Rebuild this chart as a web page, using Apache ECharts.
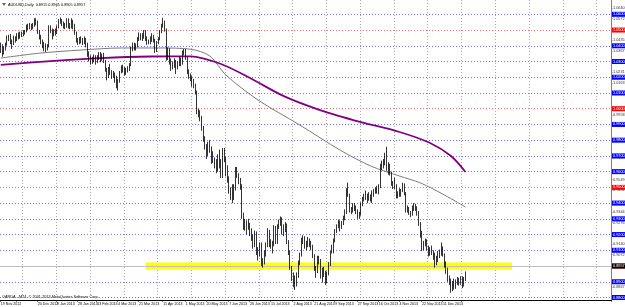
<!DOCTYPE html>
<html>
<head>
<meta charset="utf-8">
<script src="https://cdn.jsdelivr.net/npm/echarts@6/dist/echarts.min.js"></script>
<style>
  html, body { margin: 0; padding: 0; background: #fff; }
  #chart { width: 625px; height: 307px; }
</style>
</head>
<body>
<div id="chart"></div>
<script>
// AUDUSD daily candles, rows: [day, open, high, low, close]
const nov12 = [
  [19,1.0370,1.0420,1.0355,1.0400],[20,1.0400,1.0410,1.0330,1.0370],[21,1.0370,1.0395,1.0345,1.0380],
  [22,1.0380,1.0420,1.0370,1.0410],[23,1.0410,1.0465,1.0400,1.0455],[26,1.0455,1.0470,1.0430,1.0450],
  [27,1.0450,1.0475,1.0410,1.0425],[28,1.0425,1.0440,1.0380,1.0410],[29,1.0410,1.0465,1.0405,1.0445],
  [30,1.0445,1.0460,1.0420,1.0435]
];
const dec12 = [
  [3,1.0435,1.0480,1.0430,1.0470],[4,1.0470,1.0485,1.0440,1.0460],[5,1.0460,1.0490,1.0445,1.0475],
  [6,1.0475,1.0490,1.0455,1.0470],[7,1.0470,1.0500,1.0460,1.0480],[10,1.0480,1.0500,1.0470,1.0490],
  [11,1.0490,1.0535,1.0485,1.0525],[12,1.0525,1.0540,1.0500,1.0520],[13,1.0520,1.0545,1.0505,1.0530],
  [14,1.0530,1.0540,1.0500,1.0515],[17,1.0515,1.0545,1.0505,1.0535],[18,1.0535,1.0575,1.0520,1.0555],
  [19,1.0555,1.0575,1.0530,1.0545],[20,1.0545,1.0560,1.0475,1.0490],[21,1.0490,1.0500,1.0440,1.0460],
  [24,1.0460,1.0470,1.0410,1.0420],[26,1.0420,1.0440,1.0385,1.0400],[27,1.0400,1.0425,1.0365,1.0385],
  [28,1.0385,1.0415,1.0360,1.0380],[31,1.0380,1.0410,1.0370,1.0395]
];
const jan13 = [
  [2,1.0395,1.0530,1.0390,1.0515],[3,1.0515,1.0530,1.0480,1.0495],[4,1.0495,1.0510,1.0440,1.0475],
  [7,1.0475,1.0505,1.0460,1.0495],[8,1.0495,1.0510,1.0465,1.0485],[9,1.0485,1.0530,1.0475,1.0525],
  [10,1.0525,1.0570,1.0510,1.0560],[11,1.0560,1.0580,1.0540,1.0555],[14,1.0555,1.0570,1.0525,1.0540],
  [15,1.0540,1.0555,1.0510,1.0530],[16,1.0530,1.0545,1.0505,1.0520],[17,1.0520,1.0575,1.0515,1.0565],
  [18,1.0565,1.0575,1.0510,1.0525],[21,1.0525,1.0545,1.0505,1.0520],[22,1.0520,1.0575,1.0510,1.0555],
  [23,1.0555,1.0565,1.0505,1.0530],[24,1.0530,1.0540,1.0470,1.0480],[25,1.0480,1.0490,1.0420,1.0430],
  [28,1.0430,1.0450,1.0405,1.0420],[29,1.0420,1.0455,1.0410,1.0440],[30,1.0440,1.0460,1.0415,1.0430],
  [31,1.0430,1.0450,1.0405,1.0425]
];
const feb13 = [
  [1,1.0425,1.0460,1.0410,1.0440],[4,1.0440,1.0450,1.0390,1.0410],[5,1.0410,1.0420,1.0330,1.0345],
  [6,1.0345,1.0365,1.0300,1.0315],[7,1.0315,1.0340,1.0280,1.0295],[8,1.0295,1.0330,1.0285,1.0320],
  [11,1.0320,1.0345,1.0295,1.0330],[12,1.0330,1.0340,1.0280,1.0300],[13,1.0300,1.0340,1.0290,1.0325],
  [14,1.0325,1.0360,1.0310,1.0345],[15,1.0345,1.0360,1.0295,1.0310],[18,1.0310,1.0350,1.0305,1.0340],
  [19,1.0340,1.0355,1.0290,1.0300],[20,1.0300,1.0310,1.0235,1.0245],[21,1.0245,1.0260,1.0180,1.0205],
  [22,1.0205,1.0265,1.0195,1.0250],[25,1.0250,1.0285,1.0215,1.0235],[26,1.0235,1.0245,1.0190,1.0220],
  [27,1.0220,1.0240,1.0195,1.0215],[28,1.0215,1.0230,1.0165,1.0185]
];
const mar13 = [
  [1,1.0185,1.0210,1.0130,1.0150],[4,1.0150,1.0190,1.0115,1.0175],[5,1.0175,1.0240,1.0165,1.0235],
  [6,1.0235,1.0275,1.0225,1.0265],[7,1.0265,1.0280,1.0230,1.0250],[8,1.0250,1.0265,1.0210,1.0240],
  [11,1.0240,1.0260,1.0215,1.0245],[12,1.0245,1.0270,1.0230,1.0260],[13,1.0260,1.0290,1.0240,1.0280],
  [14,1.0280,1.0395,1.0270,1.0380],[15,1.0380,1.0420,1.0365,1.0405],[18,1.0405,1.0420,1.0370,1.0395],
  [19,1.0395,1.0415,1.0370,1.0400],[20,1.0400,1.0455,1.0390,1.0445],[21,1.0445,1.0485,1.0430,1.0470],
  [22,1.0470,1.0480,1.0435,1.0450],[25,1.0450,1.0480,1.0430,1.0455],[26,1.0455,1.0500,1.0445,1.0490],
  [27,1.0490,1.0500,1.0430,1.0450],[28,1.0450,1.0460,1.0405,1.0420],[29,1.0420,1.0440,1.0410,1.0425]
];
const apr13 = [
  [1,1.0425,1.0460,1.0410,1.0440],[2,1.0440,1.0480,1.0425,1.0455],[3,1.0455,1.0470,1.0420,1.0430],
  [4,1.0430,1.0445,1.0355,1.0370],[5,1.0370,1.0430,1.0360,1.0420],[8,1.0420,1.0455,1.0410,1.0445],
  [9,1.0445,1.0500,1.0435,1.0490],[10,1.0490,1.0540,1.0480,1.0530],[11,1.0530,1.0578,1.0515,1.0540],
  [12,1.0540,1.0560,1.0490,1.0505],[15,1.0505,1.0510,1.0305,1.0325],[16,1.0325,1.0390,1.0310,1.0375],
  [17,1.0375,1.0385,1.0280,1.0300],[18,1.0300,1.0320,1.0240,1.0270],[19,1.0270,1.0300,1.0250,1.0285],
  [22,1.0285,1.0320,1.0260,1.0290],[23,1.0290,1.0310,1.0220,1.0260],[24,1.0260,1.0300,1.0250,1.0280],
  [25,1.0280,1.0330,1.0270,1.0315],[26,1.0315,1.0325,1.0270,1.0290],[29,1.0290,1.0370,1.0280,1.0360],
  [30,1.0360,1.0380,1.0340,1.0365]
];
const may13 = [
  [1,1.0365,1.0380,1.0310,1.0325],[2,1.0325,1.0330,1.0220,1.0230],[3,1.0230,1.0250,1.0190,1.0215],
  [6,1.0215,1.0225,1.0175,1.0200],[7,1.0200,1.0210,1.0140,1.0160],[8,1.0160,1.0190,1.0130,1.0150],
  [9,1.0150,1.0160,1.0090,1.0105],[10,1.0105,1.0115,0.9965,0.9985],[13,0.9985,1.0000,0.9945,0.9965],
  [14,0.9965,0.9990,0.9920,0.9945],[15,0.9945,0.9955,0.9860,0.9875],[16,0.9875,0.9890,0.9790,0.9810],
  [17,0.9810,0.9825,0.9740,0.9760],[20,0.9760,0.9775,0.9680,0.9710],[21,0.9710,0.9790,0.9700,0.9780],
  [22,0.9780,0.9800,0.9720,0.9740],[23,0.9740,0.9760,0.9650,0.9700],[24,0.9700,0.9730,0.9655,0.9670],
  [27,0.9670,0.9690,0.9620,0.9650],[28,0.9650,0.9680,0.9590,0.9610],[29,0.9610,0.9710,0.9600,0.9695],
  [30,0.9695,0.9740,0.9620,0.9640],[31,0.9640,0.9680,0.9560,0.9570]
];
const jun13 = [
  [3,0.9570,0.9750,0.9560,0.9740],[4,0.9740,0.9750,0.9660,0.9690],[5,0.9690,0.9695,0.9570,0.9590],
  [6,0.9590,0.9640,0.9530,0.9560],[7,0.9560,0.9570,0.9460,0.9475],[10,0.9475,0.9500,0.9420,0.9465],
  [11,0.9465,0.9520,0.9400,0.9435],[12,0.9435,0.9520,0.9420,0.9500],[13,0.9500,0.9630,0.9480,0.9610],
  [14,0.9610,0.9630,0.9560,0.9575],[17,0.9575,0.9590,0.9520,0.9550],[18,0.9550,0.9560,0.9485,0.9505],
  [19,0.9505,0.9520,0.9300,0.9320],[20,0.9320,0.9340,0.9230,0.9260],[21,0.9260,0.9300,0.9225,0.9270],
  [24,0.9270,0.9290,0.9200,0.9240],[25,0.9240,0.9300,0.9230,0.9265],[26,0.9265,0.9275,0.9190,0.9215],
  [27,0.9215,0.9240,0.9160,0.9180],[28,0.9180,0.9200,0.9110,0.9140]
];
const jul13 = [
  [1,0.9140,0.9225,0.9120,0.9210],[2,0.9210,0.9220,0.9070,0.9085],[3,0.9085,0.9120,0.9035,0.9090],
  [4,0.9090,0.9150,0.9060,0.9140],[5,0.9140,0.9150,0.9000,0.9015],[8,0.9015,0.9050,0.8990,0.9030],
  [9,0.9030,0.9100,0.9010,0.9085],[10,0.9085,0.9150,0.9060,0.9140],[11,0.9140,0.9240,0.9120,0.9225],
  [12,0.9225,0.9230,0.9120,0.9140],[15,0.9140,0.9170,0.9110,0.9145],[16,0.9145,0.9160,0.9080,0.9135],
  [17,0.9135,0.9260,0.9125,0.9245],[18,0.9245,0.9255,0.9140,0.9155],[19,0.9155,0.9265,0.9140,0.9250],
  [22,0.9250,0.9295,0.9235,0.9280],[23,0.9280,0.9315,0.9255,0.9305],[24,0.9305,0.9310,0.9200,0.9210],
  [25,0.9210,0.9265,0.9190,0.9250],[26,0.9250,0.9280,0.9215,0.9260],[29,0.9260,0.9270,0.9140,0.9150],
  [30,0.9150,0.9165,0.9070,0.9080],[31,0.9080,0.9100,0.8975,0.8990]
];
const aug13 = [
  [1,0.8990,0.9000,0.8905,0.8920],[2,0.8920,0.8960,0.8865,0.8920],[5,0.8920,0.8940,0.8848,0.8880],
  [6,0.8880,0.8960,0.8870,0.8945],[7,0.8945,0.9035,0.8925,0.9025],[8,0.9025,0.9085,0.9005,0.9075],
  [9,0.9075,0.9180,0.9060,0.9165],[12,0.9165,0.9195,0.9140,0.9180],[13,0.9180,0.9190,0.9110,0.9125],
  [14,0.9125,0.9160,0.9100,0.9140],[15,0.9140,0.9185,0.9120,0.9150],[16,0.9150,0.9175,0.9120,0.9155],
  [19,0.9155,0.9160,0.9100,0.9125],[20,0.9125,0.9135,0.9050,0.9070],[21,0.9070,0.9075,0.8970,0.8990],
  [22,0.8990,0.9000,0.8925,0.8965],[23,0.8965,0.9065,0.8955,0.9055],[26,0.9055,0.9065,0.9010,0.9040],
  [27,0.9040,0.9045,0.8920,0.8930],[28,0.8930,0.8990,0.8895,0.8975],[29,0.8975,0.8995,0.8930,0.8960],
  [30,0.8960,0.8970,0.8880,0.8900]
];
const sep13 = [
  [2,0.8900,0.8965,0.8890,0.8955],[3,0.8955,0.9025,0.8940,0.9015],[4,0.9015,0.9095,0.9000,0.9090],
  [5,0.9090,0.9135,0.9080,0.9115],[6,0.9115,0.9175,0.9080,0.9160],[9,0.9160,0.9235,0.9150,0.9225],
  [10,0.9225,0.9265,0.9210,0.9255],[11,0.9255,0.9295,0.9240,0.9285],[12,0.9285,0.9290,0.9220,0.9250],
  [13,0.9250,0.9285,0.9235,0.9275],[16,0.9275,0.9320,0.9260,0.9305],[17,0.9305,0.9360,0.9290,0.9355],
  [18,0.9355,0.9495,0.9330,0.9475],[19,0.9475,0.9530,0.9440,0.9455],[20,0.9455,0.9460,0.9340,0.9350],
  [23,0.9350,0.9375,0.9330,0.9360],[24,0.9360,0.9400,0.9340,0.9380],[25,0.9380,0.9400,0.9350,0.9365],
  [26,0.9365,0.9385,0.9330,0.9355],[27,0.9355,0.9360,0.9300,0.9325],[30,0.9325,0.9345,0.9300,0.9330]
];
const oct13 = [
  [1,0.9330,0.9405,0.9320,0.9395],[2,0.9395,0.9440,0.9380,0.9425],[3,0.9425,0.9460,0.9410,0.9445],
  [4,0.9445,0.9480,0.9420,0.9450],[7,0.9450,0.9460,0.9400,0.9430],[8,0.9430,0.9470,0.9415,0.9445],
  [9,0.9445,0.9455,0.9410,0.9430],[10,0.9430,0.9480,0.9400,0.9470],[11,0.9470,0.9490,0.9440,0.9480],
  [14,0.9480,0.9500,0.9460,0.9485],[15,0.9485,0.9510,0.9460,0.9480],[16,0.9480,0.9520,0.9455,0.9505],
  [17,0.9505,0.9650,0.9495,0.9640],[18,0.9640,0.9670,0.9610,0.9640],[21,0.9640,0.9680,0.9620,0.9665],
  [22,0.9665,0.9720,0.9640,0.9700],[23,0.9700,0.9758,0.9605,0.9620],[24,0.9620,0.9660,0.9580,0.9640],
  [25,0.9640,0.9650,0.9575,0.9590],[28,0.9590,0.9600,0.9510,0.9520],[29,0.9520,0.9540,0.9490,0.9525],
  [30,0.9525,0.9560,0.9490,0.9515],[31,0.9515,0.9520,0.9430,0.9445]
];
const nov13 = [
  [1,0.9445,0.9475,0.9430,0.9450],[4,0.9450,0.9495,0.9440,0.9485],[5,0.9485,0.9490,0.9440,0.9480],
  [6,0.9480,0.9530,0.9470,0.9510],[7,0.9510,0.9525,0.9450,0.9465],[8,0.9465,0.9470,0.9340,0.9360],
  [11,0.9360,0.9385,0.9340,0.9365],[12,0.9365,0.9375,0.9325,0.9340],[13,0.9340,0.9350,0.9310,0.9330],
  [14,0.9330,0.9385,0.9320,0.9375],[15,0.9375,0.9400,0.9350,0.9370],[18,0.9370,0.9395,0.9350,0.9365],
  [19,0.9365,0.9380,0.9320,0.9340],[20,0.9340,0.9350,0.9255,0.9270],[21,0.9270,0.9280,0.9180,0.9215],
  [22,0.9215,0.9225,0.9095,0.9115],[25,0.9115,0.9160,0.9100,0.9145],[26,0.9145,0.9175,0.9125,0.9160],
  [27,0.9160,0.9170,0.9100,0.9120],[28,0.9120,0.9130,0.9060,0.9080],[29,0.9080,0.9120,0.9065,0.9105]
];
const dec13 = [
  [2,0.9105,0.9130,0.9070,0.9095],[3,0.9095,0.9100,0.9040,0.9075],[4,0.9075,0.9085,0.8990,0.9040],
  [5,0.9040,0.9065,0.9005,0.9035],[6,0.9035,0.9095,0.9025,0.9085],[9,0.9085,0.9105,0.9050,0.9075],
  [10,0.9075,0.9150,0.9065,0.9115],[11,0.9115,0.9125,0.9060,0.9075],[12,0.9075,0.9080,0.8990,0.9020],
  [13,0.9020,0.9030,0.8950,0.8975],[16,0.8975,0.8990,0.8900,0.8920],[17,0.8920,0.8940,0.8880,0.8900],
  [18,0.8900,0.8920,0.8830,0.8870],[19,0.8870,0.8905,0.8840,0.8875],[20,0.8875,0.8920,0.8850,0.8870],
  [23,0.8870,0.8915,0.8855,0.8905],[24,0.8905,0.8930,0.8880,0.8900],[26,0.8900,0.8925,0.8875,0.8895],
  [27,0.8895,0.8935,0.8880,0.8925],[30,0.8925,0.8935,0.8860,0.8885],[31,0.8885,0.8930,0.8870,0.8915]
];
const jan14 = [
  [2,0.8915,0.8965,0.8905,0.8957]
];
const months = [
  ['Nov 2012', nov12], ['Dec 2012', dec12], ['Jan 2013', jan13], ['Feb 2013', feb13],
  ['Mar 2013', mar13], ['Apr 2013', apr13], ['May 2013', may13], ['Jun 2013', jun13],
  ['Jul 2013', jul13], ['Aug 2013', aug13], ['Sep 2013', sep13], ['Oct 2013', oct13],
  ['Nov 2013', nov13], ['Dec 2013', dec13], ['Jan 2014', jan14]
];

// empty bar slots kept on the right (chart shift)
const FUTURE_SLOTS = 90;

// date labels printed under the chart
const dateLabels = [
  '19 Nov 2012','3 Dec 2012','20 Dec 2012','9 Jan 2013','28 Jan 2013','13 Feb 2013','4 Mar 2013',
  '21 Mar 2013','11 Apr 2013','1 May 2013','20 May 2013','7 Jun 2013','26 Jun 2013','15 Jul 2013',
  '2 Aug 2013','21 Aug 2013','9 Sep 2013','27 Sep 2013','16 Oct 2013','4 Nov 2013','22 Nov 2013',
  '11 Dec 2013','30 Dec 2013'
];

// moving averages: bar index -> value
const maGrayIdx = [0, 25, 50, 75, 99, 118, 130, 140, 160, 186, 211, 230, 248, 261, 276, 289];
const maGray    = [1.0322, 1.0354, 1.0373, 1.0386, 1.0386, 1.0378, 1.0335, 1.0214, 1.0055,
                   0.9896, 0.9737, 0.9636, 0.9572, 0.9528, 0.9451, 0.9375];
const maPurpleIdx = [0, 31, 62, 93, 118, 137, 155, 176, 199, 224, 248, 267, 280, 289];
const maPurple    = [1.0278, 1.0303, 1.0322, 1.0332, 1.0333, 1.0284, 1.0195, 1.0080, 0.9990,
                     0.9915, 0.9852, 0.9782, 0.9699, 0.9598];

// horizontal line objects (every 0.01; red ones every 0.05)
const blueLevels = [1.06, 1.04, 1.03, 1.02, 1.01, 0.99, 0.98, 0.97, 0.96, 0.94, 0.93, 0.92, 0.91, 0.89, 0.88];
const redLevels  = [1.05, 1.00, 0.95, 0.90];

// plain price scale labels
const priceTicks = [1.0640, 1.0572, 1.0435, 1.0367, 1.0231, 1.0163, 0.9958, 0.9890, 0.9685,
                    0.9549, 0.9481, 0.9344, 0.9276, 0.9140, 0.9072, 0.8867];

// yellow support zone: [fromBar, toBar, top, bottom]
const zone = [90, 318, 0.9022, 0.8978];

const Y_MIN = 0.8784, Y_MAX = 1.0691;

const categories = [];
const candles = [];
months.forEach(function (m) {
  m[1].forEach(function (r) {
    categories.push(r[0] + ' ' + m[0]);
    candles.push([r[1], r[4], r[3], r[2]]); // open, close, low, high
  });
});
for (let i = 0; i < FUTURE_SLOTS; i++) categories.push('');
const bid = candles[candles.length - 1][1];
const lastRow = jan14[jan14.length - 1];

const FONT = '"Liberation Sans", Arial, sans-serif';
const FS = 3.8;

function boxLabel(v, bg) {
  return {
    show: true, position: 'end', distance: 1,
    formatter: v.toFixed(4), color: '#fff', backgroundColor: bg,
    fontSize: FS, fontFamily: FONT, padding: [1, 1, 0, 1], lineHeight: 4
  };
}

const lines = blueLevels.map(v => ({ yAxis: v, lineStyle: { color: '#7070ff', type: [1, 2], width: 1 }, label: boxLabel(v, '#0000ff') }))
  .concat(redLevels.map(v => ({ yAxis: v, lineStyle: { color: '#ff7070', type: [1, 2], width: 1 }, label: boxLabel(v, '#ff0000') })));
lines.push({ yAxis: bid, lineStyle: { color: '#c0c0c0', type: 'solid', width: 1 }, label: boxLabel(bid, '#000') });

const chart = echarts.init(document.getElementById('chart'), null, { renderer: 'canvas' });
chart.setOption({
  animation: false,
  backgroundColor: '#fff',
  grid: { left: 0, right: 14, top: 0, bottom: 7, outerBoundsMode: 'none' },
  xAxis: {
    type: 'category',
    data: categories,
    boundaryGap: true,
    axisLine: { lineStyle: { color: '#000', width: 1 } },
    axisTick: { show: true, length: 1.5, interval: (i, v) => dateLabels.indexOf(v) >= 0, lineStyle: { color: '#000' } },
    axisLabel: {
      interval: (i, v) => dateLabels.indexOf(v) >= 0,
      fontSize: 3.6, fontFamily: FONT, color: '#000', margin: 1.5, align: 'left',
      showMinLabel: true, showMaxLabel: false, hideOverlap: false
    },
    splitLine: {
      show: true,
      interval: i => i % 21 === 14,
      lineStyle: { color: '#a8a8a8', type: [1, 2], width: 1 }
    }
  },
  yAxis: {
    type: 'value',
    position: 'right',
    min: Y_MIN, max: Y_MAX,
    axisLine: { show: true, lineStyle: { color: '#808080', width: 1 } },
    axisTick: { show: true, length: 1.5, customValues: priceTicks, lineStyle: { color: '#808080' } },
    axisLabel: {
      customValues: priceTicks,
      formatter: v => v.toFixed(4),
      fontSize: FS, fontFamily: FONT, color: '#333', margin: 2
    },
    splitLine: { show: false }
  },
  series: [
    {
      name: 'objects', type: 'line', data: [], z: 1, silent: true,
      markArea: {
        silent: true, z: 1,
        itemStyle: { color: '#ffff00', opacity: 1 },
        data: [[{ xAxis: zone[0], yAxis: zone[2] }, { xAxis: zone[1], yAxis: zone[3] }]]
      },
      markLine: { silent: true, z: 1, symbol: 'none', animation: false, data: lines }
    },
    {
      name: 'MA gray', type: 'line', z: 3, silent: true,
      data: maGrayIdx.map((x, i) => [x, maGray[i]]),
      showSymbol: false, smooth: 0.3,
      lineStyle: { color: '#7a7a7a', width: 1 }
    },
    {
      name: 'MA purple', type: 'line', z: 3, silent: true,
      data: maPurpleIdx.map((x, i) => [x, maPurple[i]]),
      showSymbol: false, smooth: 0.3,
      lineStyle: { color: '#800080', width: 1.8 }
    },
    {
      name: 'AUDUSD', type: 'candlestick', z: 4,
      data: candles,
      barWidth: 1.2,
      itemStyle: {
        color: '#ffffff', color0: '#000000',
        borderColor: '#000000', borderColor0: '#000000', borderWidth: 0.8
      }
    }
  ],
  graphic: [
    { type: 'polygon', shape: { points: [[2, 3], [6, 3], [4, 6]] }, style: { fill: '#666' } },
    {
      type: 'text', left: 8, top: 2.5,
      style: {
        text: 'AUDUSD,Daily  ' + lastRow.slice(1).map(v => v.toFixed(4)).join(' '),
        fontSize: FS, fontFamily: FONT, fill: '#000'
      }
    },
    {
      type: 'text', left: 2, top: 295,
      style: {
        text: 'OANDA - MT4, \u00a9 2001-2013 MetaQuotes Software Corp.',
        fontSize: FS, fontFamily: FONT, fill: '#000'
      }
    }
  ]
});
</script>
</body>
</html>
